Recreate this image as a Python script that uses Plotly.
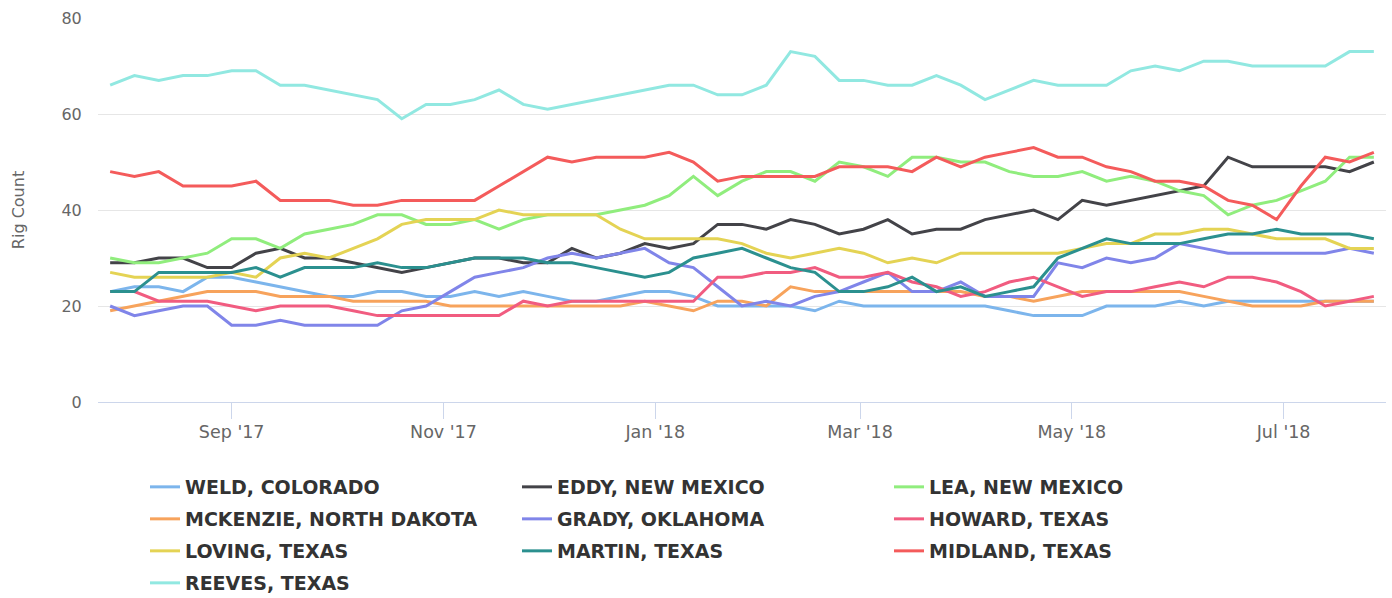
import pandas as pd
import plotly.graph_objects as go
from datetime import timedelta

dates = pd.date_range("2017-07-28", periods=53, freq="7D")

weld = [23,24,24,23,26,26,25,24,23,22,22,23,23,22,22,23,22,23,22,21,21,22,23,23,22,20,20,20,20,19,21,20,20,20,20,20,20,19,18,18,18,20,20,20,21,20,21,21,21,21,21,21,21]
eddy = [29,29,30,30,28,28,31,32,30,30,29,28,27,28,29,30,30,29,29,32,30,31,33,32,33,37,37,36,38,37,35,36,38,35,36,36,38,39,40,38,42,41,42,43,44,45,51,49,49,49,49,48,50]
lea = [30,29,29,30,31,34,34,32,35,36,37,39,39,37,37,38,36,38,39,39,39,40,41,43,47,43,46,48,48,46,50,49,47,51,51,50,50,48,47,47,48,46,47,46,44,43,39,41,42,44,46,51,51]
mckenzie = [19,20,21,22,23,23,23,22,22,22,21,21,21,21,20,20,20,20,20,20,20,20,21,20,19,21,21,20,24,23,23,23,23,23,23,23,22,22,21,22,23,23,23,23,23,22,21,20,20,20,21,21,21]
grady = [20,18,19,20,20,16,16,17,16,16,16,16,19,20,23,26,27,28,30,31,30,31,32,29,28,24,20,21,20,22,23,25,27,23,23,25,22,22,22,29,28,30,29,30,33,32,31,31,31,31,31,32,31]
howard = [23,23,21,21,21,20,19,20,20,20,19,18,18,18,18,18,18,21,20,21,21,21,21,21,21,26,26,27,27,28,26,26,27,25,24,22,23,25,26,24,22,23,23,24,25,24,26,26,25,23,20,21,22]
loving = [27,26,26,26,26,27,26,30,31,30,32,34,37,38,38,38,40,39,39,39,39,36,34,34,34,34,33,31,30,31,32,31,29,30,29,31,31,31,31,31,32,33,33,35,35,36,36,35,34,34,34,32,32]
martin = [23,23,27,27,27,27,28,26,28,28,28,29,28,28,29,30,30,30,29,29,28,27,26,27,30,31,32,30,28,27,23,23,24,26,23,24,22,23,24,30,32,34,33,33,33,34,35,35,36,35,35,35,34]
midland = [48,47,48,45,45,45,46,42,42,42,41,41,42,42,42,42,45,48,51,50,51,51,51,52,50,46,47,47,47,47,49,49,49,48,51,49,51,52,53,51,51,49,48,46,46,45,42,41,38,45,51,50,52]
reeves = [66,68,67,68,68,69,69,66,66,65,64,63,59,62,62,63,65,62,61,62,63,64,65,66,66,64,64,66,73,72,67,67,66,66,68,66,63,65,67,66,66,66,69,70,69,71,71,70,70,70,70,73,73]

names = ["WELD, COLORADO", "EDDY, NEW MEXICO", "LEA, NEW MEXICO",
         "MCKENZIE, NORTH DAKOTA", "GRADY, OKLAHOMA", "HOWARD, TEXAS",
         "LOVING, TEXAS", "MARTIN, TEXAS", "MIDLAND, TEXAS", "REEVES, TEXAS"]
series = [weld, eddy, lea, mckenzie, grady, howard, loving, martin, midland, reeves]
colors = ["#7cb5ec", "#434348", "#90ed7d", "#f7a35c", "#8085e9",
          "#f15c80", "#e4d354", "#2b908f", "#f45b5b", "#91e8e1"]

legend_ids = ["legend", "legend2", "legend3", "legend4"]

fig = go.Figure()
for i, (n, s, c) in enumerate(zip(names, series, colors)):
    fig.add_trace(go.Scatter(x=dates, y=s, name=n, mode="lines",
                             line=dict(color=c, width=3),
                             legend=legend_ids[i // 3]))

font_family = "DejaVu Sans, Lucida Grande, Arial, sans-serif"
row_y = [487, 519, 551, 583]
legend_common = dict(orientation="h", xref="container", yref="container",
                     x=145/1392, xanchor="left", yanchor="middle",
                     entrywidth=327, entrywidthmode="pixels",
                     font=dict(family=font_family, size=19, color="#333333", weight="bold"),
                     bgcolor="rgba(0,0,0,0)", borderwidth=0, itemclick=False)
legends = {}
for lid, ry in zip(legend_ids, row_y):
    legends[lid] = dict(legend_common, y=1 - ry/598)

fig.update_layout(
    width=1392, height=598,
    margin=dict(l=98, r=6, t=18, b=196),
    paper_bgcolor="white", plot_bgcolor="white",
    font=dict(family=font_family, color="#666666"),
    showlegend=True,
    xaxis=dict(range=[dates[0] - timedelta(days=3.5), dates[-1] + timedelta(days=3.5)],
               tickformat="%b '%y", dtick="M2", tick0="2017-09-01",
               showgrid=False, showline=True, linecolor="#ccd6eb", linewidth=1,
               ticks="outside", ticklen=16, tickcolor="#ccd6eb",
               ticklabelstandoff=-2, automargin=False,
               tickfont=dict(size=17.5, color="#666666"), zeroline=False),
    yaxis=dict(range=[0, 80], dtick=20, showgrid=True, gridcolor="#e6e6e6",
               zeroline=False, ticks="outside", ticklen=12, tickcolor="rgba(0,0,0,0)",
               tickfont=dict(size=16, color="#666666"), automargin=False,
               title=dict(text="Rig Count", font=dict(size=16, color="#666666"), standoff=32)),
    **legends,
)

fig.write_html("out.html", config={"displayModeBar": False},
               post_script="document.body.style.margin='0px';")
